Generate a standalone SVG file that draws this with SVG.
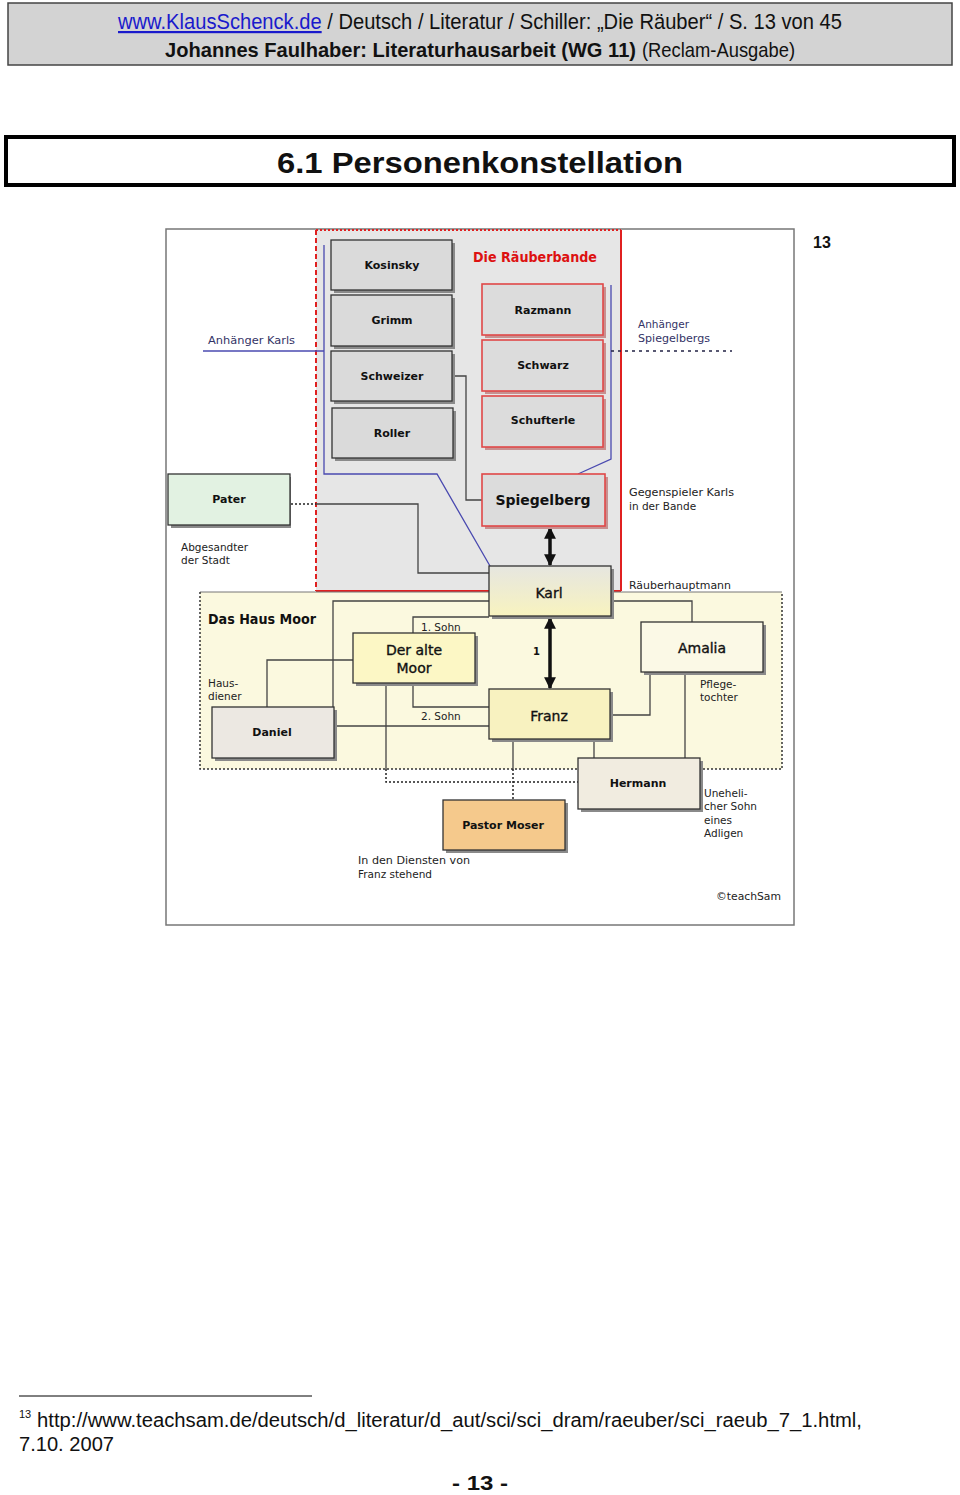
<svg xmlns="http://www.w3.org/2000/svg" width="960" height="1495" viewBox="0 0 960 1495">
<defs>
<style>
.hd{font-family:"Liberation Sans",Arial,sans-serif;fill:#111}
.dg{font-family:"DejaVu Sans",Verdana,sans-serif;fill:#111}
.nm{font-family:"DejaVu Sans",Verdana,sans-serif;font-weight:bold;font-size:11px;fill:#111;text-anchor:middle}
.nm2{font-family:"DejaVu Sans",Verdana,sans-serif;font-size:14px;fill:#111;text-anchor:middle;stroke:#111;stroke-width:0.35}
.lb{font-family:"DejaVu Sans",Verdana,sans-serif;font-size:10.5px;fill:#222}
.bl{fill:#333366}
.box{stroke:#333;stroke-width:1.3}
.rbox{fill:#dcdcdc;stroke:#e04848;stroke-width:1.6}
.sh{fill:#8a8a8a}
.rsh{fill:#c89090}
.ln{fill:none;stroke:#444;stroke-width:1.3}
.blue{fill:none;stroke:#4a4ab0;stroke-width:1.3}
.dot{fill:none;stroke:#222;stroke-width:1.5;stroke-dasharray:2,2}
.arr{stroke:#111;stroke-width:3.5;marker-start:url(#ah);marker-end:url(#ah)}
</style>
<marker id="ah" viewBox="0 0 10 10" refX="9" refY="5" markerWidth="3.4" markerHeight="3.4" orient="auto-start-reverse" markerUnits="strokeWidth">
<path d="M0,0 L10,5 L0,10 z" fill="#111"/>
</marker>
<linearGradient id="karlg" x1="0" y1="0" x2="0" y2="1">
<stop offset="0" stop-color="#e6e6e0"/>
<stop offset="1" stop-color="#f8f3bf"/>
</linearGradient>
</defs>

<g id="header">
<rect x="8" y="3" width="944" height="62" fill="#d3d3d3" stroke="#444" stroke-width="1.5"/>
<text class="hd" x="118" y="29" font-size="22" textLength="724" lengthAdjust="spacingAndGlyphs"><tspan fill="#1a1acc" text-decoration="underline">www.KlausSchenck.de</tspan> / Deutsch / Literatur / Schiller: „Die Räuber“ / S. 13 von 45</text>
<text class="hd" x="165" y="57" font-size="21" font-weight="bold" textLength="471" lengthAdjust="spacingAndGlyphs">Johannes Faulhaber: Literaturhausarbeit (WG 11)</text>
<text class="hd" x="642" y="57" font-size="21" textLength="153" lengthAdjust="spacingAndGlyphs">(Reclam-Ausgabe)</text>
</g>

<g id="title">
<rect x="6" y="137" width="948" height="48" fill="#fff" stroke="#000" stroke-width="4"/>
<text class="hd" x="480" y="173" font-size="29" font-weight="bold" text-anchor="middle" textLength="406" lengthAdjust="spacingAndGlyphs">6.1 Personenkonstellation</text>
<text class="hd" x="813" y="248" font-size="16" font-weight="bold">13</text>
</g>

<g id="frame">
<rect x="166" y="229" width="628" height="696" fill="#fff" stroke="#777" stroke-width="1.5"/>
</g>

<g id="raeuberbande">
<rect x="316" y="230" width="305" height="361" fill="#e6e6e6"/>
<line x1="316" y1="230" x2="316" y2="591" stroke="#e02020" stroke-width="2" stroke-dasharray="5,3"/>
<line x1="316" y1="230" x2="621" y2="230" stroke="#e02020" stroke-width="2" stroke-dasharray="2,2"/>
<line x1="621" y1="230" x2="621" y2="591" stroke="#e02020" stroke-width="2"/>
<line x1="316" y1="591" x2="621" y2="591" stroke="#e02020" stroke-width="2"/>
<text x="473" y="262" font-family="DejaVu Sans,Verdana,sans-serif" font-size="14" font-weight="bold" fill="#dd1111" textLength="124" lengthAdjust="spacingAndGlyphs">Die Räuberbande</text>
</g>

<g id="hausmoor">
<rect x="200" y="592" width="582" height="177" fill="#fbf9df"/>
<line x1="200" y1="592" x2="782" y2="592" stroke="#777" stroke-width="1"/>
<path d="M200,592 L200,769 L782,769 L782,592" fill="none" stroke="#333" stroke-width="1.5" stroke-dasharray="2,2"/>
<text x="208" y="624" font-family="DejaVu Sans,Verdana,sans-serif" font-size="14" font-weight="bold" fill="#111" textLength="108" lengthAdjust="spacingAndGlyphs">Das Haus Moor</text>
</g>

<g id="connectors">
<polyline class="blue" points="324,245 324,474 437,474 490,566"/>
<line class="blue" x1="203" y1="351" x2="324" y2="351" stroke="#333366"/>
<polyline class="blue" points="611,285 611,459 578,474"/>
<line x1="611" y1="351" x2="732" y2="351" stroke="#222244" stroke-width="1.5" stroke-dasharray="3,4"/>
<polyline class="ln" points="452,376 466,376 466,500 482,500"/>
<line class="dot" x1="291" y1="504" x2="316" y2="504"/>
<polyline class="ln" points="316,504 418,504 418,573 489,573"/>
<line class="arr" x1="550" y1="528" x2="550" y2="565"/>
<polyline class="ln" points="489,601 333,601 333,707"/>
<polyline class="ln" points="489,617 413,617 413,633"/>
<polyline class="ln" points="413,683 413,707 489,707"/>
<line class="arr" x1="550" y1="618" x2="550" y2="688"/>
<polyline class="ln" points="353,660 267,660 267,707"/>
<line class="ln" x1="334" y1="726" x2="489" y2="726"/>
<line class="ln" x1="386" y1="683" x2="386" y2="769"/>
<polyline class="dot" points="386,769 386,782 578,782"/>
<line class="ln" x1="513" y1="739" x2="513" y2="769"/>
<line class="dot" x1="513" y1="769" x2="513" y2="800"/>
<line class="ln" x1="594" y1="739" x2="594" y2="758"/>
<polyline class="ln" points="611,601 692,601 692,622"/>
<polyline class="ln" points="650,672 650,715 610,715"/>
<line class="ln" x1="685" y1="672" x2="685" y2="758"/>
</g>

<g id="kosinsky"><rect class="sh" x="334" y="243" width="121" height="50"/><rect class="box" x="331" y="240" width="121" height="50" fill="#dadada"/><text class="nm" x="392" y="269">Kosinsky</text></g>
<g id="grimm"><rect class="sh" x="334" y="298" width="121" height="51"/><rect class="box" x="331" y="295" width="121" height="51" fill="#dadada"/><text class="nm" x="392" y="324">Grimm</text></g>
<g id="schweizer"><rect class="sh" x="334" y="354" width="121" height="50"/><rect class="box" x="331" y="351" width="121" height="50" fill="#dadada"/><text class="nm" x="392" y="380">Schweizer</text></g>
<g id="roller"><rect class="sh" x="335" y="411" width="121" height="50"/><rect class="box" x="332" y="408" width="121" height="50" fill="#dadada"/><text class="nm" x="392" y="437">Roller</text></g>

<g id="razmann"><rect class="rsh" x="485" y="287" width="121" height="51"/><rect class="rbox" x="482" y="284" width="121" height="51"/><text class="nm" x="543" y="314">Razmann</text></g>
<g id="schwarz"><rect class="rsh" x="485" y="343" width="121" height="51"/><rect class="rbox" x="482" y="340" width="121" height="51"/><text class="nm" x="543" y="369">Schwarz</text></g>
<g id="schufterle"><rect class="rsh" x="485" y="399" width="121" height="51"/><rect class="rbox" x="482" y="396" width="121" height="51"/><text class="nm" x="543" y="424">Schufterle</text></g>
<g id="spiegelberg"><rect class="rsh" x="485" y="477" width="123" height="52"/><rect class="rbox" x="482" y="474" width="123" height="52"/><text class="dg" x="543" y="505" font-size="14" font-weight="bold" text-anchor="middle">Spiegelberg</text></g>

<g id="pater"><rect class="sh" x="171" y="477" width="120" height="51"/><rect class="box" x="168" y="474" width="122" height="51" fill="#e2f2e2"/><text class="nm" x="229" y="503">Pater</text></g>

<g id="karl"><rect class="sh" x="492" y="569" width="122" height="50"/><rect class="box" x="489" y="566" width="122" height="50" fill="url(#karlg)"/><text class="nm2" x="549" y="598">Karl</text></g>

<g id="alter-moor"><rect class="sh" x="356" y="636" width="122" height="50"/><rect class="box" x="353" y="633" width="122" height="50" fill="#fcf7c5"/><text class="nm2" x="414" y="655">Der alte</text><text class="nm2" x="414" y="673">Moor</text></g>

<g id="franz"><rect class="sh" x="492" y="692" width="121" height="50"/><rect class="box" x="489" y="689" width="121" height="50" fill="#f8f2c0"/><text class="nm2" x="549" y="721">Franz</text></g>

<g id="amalia"><rect class="sh" x="644" y="625" width="122" height="50"/><rect class="box" x="641" y="622" width="122" height="50" fill="#fbf9e6"/><text class="nm2" x="702" y="653">Amalia</text></g>

<g id="daniel"><rect class="sh" x="215" y="710" width="122" height="51"/><rect class="box" x="212" y="707" width="122" height="51" fill="#ece8e2"/><text class="nm" x="272" y="736">Daniel</text></g>

<g id="hermann"><rect class="sh" x="581" y="761" width="122" height="51"/><rect class="box" x="578" y="758" width="122" height="51" fill="#f1ece0"/><text class="nm" x="638" y="787">Hermann</text></g>

<g id="pastor-moser"><rect class="sh" x="446" y="803" width="122" height="50"/><rect class="box" x="443" y="800" width="122" height="50" fill="#f5c98c"/><text class="nm" x="503" y="829">Pastor Moser</text></g>

<g id="labels">
<text class="lb bl" x="208" y="344" textLength="87" lengthAdjust="spacingAndGlyphs">Anhänger Karls</text>
<text class="lb bl" x="638" y="328">Anhänger</text>
<text class="lb bl" x="638" y="342" textLength="72" lengthAdjust="spacingAndGlyphs">Spiegelbergs</text>
<text class="lb" x="629" y="496" textLength="105" lengthAdjust="spacingAndGlyphs">Gegenspieler Karls</text>
<text class="lb" x="629" y="510">in der Bande</text>
<text class="lb" x="181" y="551">Abgesandter</text>
<text class="lb" x="181" y="564">der Stadt</text>
<text class="lb" x="629" y="589" textLength="102" lengthAdjust="spacingAndGlyphs">Räuberhauptmann</text>
<text class="lb" x="421" y="631">1. Sohn</text>
<text class="lb" x="421" y="720">2. Sohn</text>
<text class="dg" x="533" y="655" font-size="10" font-weight="bold">1</text>
<text class="lb" x="208" y="687">Haus-</text>
<text class="lb" x="208" y="700">diener</text>
<text class="lb" x="700" y="688">Pflege-</text>
<text class="lb" x="700" y="701">tochter</text>
<text class="lb" x="704" y="797">Uneheli-</text>
<text class="lb" x="704" y="810">cher Sohn</text>
<text class="lb" x="704" y="824">eines</text>
<text class="lb" x="704" y="837">Adligen</text>
<text class="lb" x="358" y="864" textLength="112" lengthAdjust="spacingAndGlyphs">In den Diensten von</text>
<text class="lb" x="358" y="878">Franz stehend</text>
<text class="lb" x="716" y="900" textLength="65" lengthAdjust="spacingAndGlyphs">©teachSam</text>
</g>

<g id="footer">
<line x1="19" y1="1396" x2="312" y2="1396" stroke="#000" stroke-width="1"/>
<text class="hd" x="19" y="1418" font-size="11">13</text>
<text class="hd" x="37" y="1427" font-size="20" textLength="825" lengthAdjust="spacingAndGlyphs">http://www.teachsam.de/deutsch/d_literatur/d_aut/sci/sci_dram/raeuber/sci_raeub_7_1.html,</text>
<text class="hd" x="19" y="1451" font-size="20" textLength="95" lengthAdjust="spacingAndGlyphs">7.10. 2007</text>
<text class="hd" x="480" y="1490" font-size="21" font-weight="bold" text-anchor="middle" textLength="56" lengthAdjust="spacingAndGlyphs">- 13 -</text>
</g>
</svg>
